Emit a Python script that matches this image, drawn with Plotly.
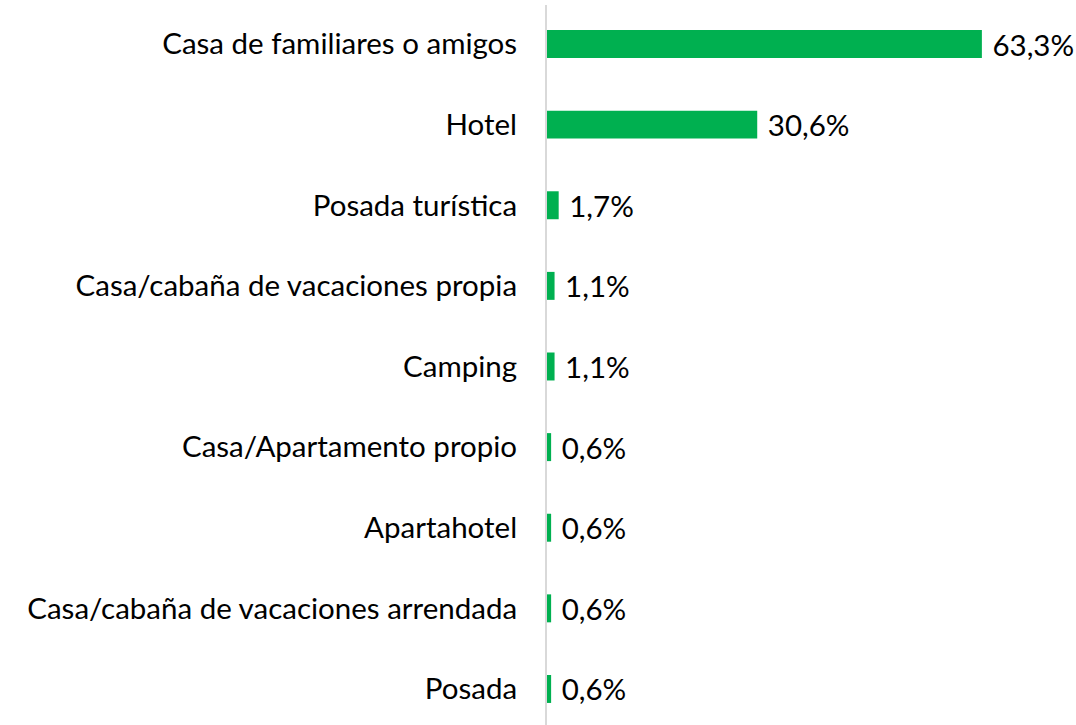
import plotly.graph_objects as go

categories = [
    "Casa de familiares o amigos",
    "Hotel",
    "Posada turística",
    "Casa/cabaña de vacaciones propia",
    "Camping",
    "Casa/Apartamento propio",
    "Apartahotel",
    "Casa/cabaña de vacaciones arrendada",
    "Posada",
]
values = [63.3, 30.6, 1.7, 1.1, 1.1, 0.6, 0.6, 0.6, 0.6]
value_labels = ["63,3%", "30,6%", "1,7%", "1,1%", "1,1%", "0,6%", "0,6%", "0,6%", "0,6%"]

FONT = "Lato"
FSIZE = 29.5

fig = go.Figure(
    go.Bar(
        y=categories,
        x=values,
        orientation="h",
        marker=dict(color="#00B050", line=dict(width=0)),
        text=value_labels,
        texttemplate="\u00a0%{text}",
        textposition="outside",
        constraintext="none",
        textfont=dict(family=FONT, size=FSIZE, color="#000000"),
        cliponaxis=False,
        hoverinfo="skip",
    )
)

fig.update_layout(
    width=1076,
    height=725,
    margin=dict(l=547, r=0, t=5, b=0),
    paper_bgcolor="white",
    plot_bgcolor="white",
    bargap=0.653,
    showlegend=False,
    font=dict(family=FONT, size=FSIZE, color="#000000"),
)
fig.update_xaxes(range=[0, 77], visible=False, showgrid=False, zeroline=False, automargin=False)
fig.update_yaxes(
    range=[8.447, -0.484],
    automargin=False,
    showline=True,
    linecolor="#D9D9D9",
    linewidth=2,
    showgrid=False,
    ticks="",
    ticklabelstandoff=22,
    tickfont=dict(family=FONT, size=FSIZE, color="#000000"),
)

fig.write_html(
    "out.html",
    config={"displayModeBar": False},
    post_script="document.body.style.margin='0';document.body.style.overflow='hidden';",
)
